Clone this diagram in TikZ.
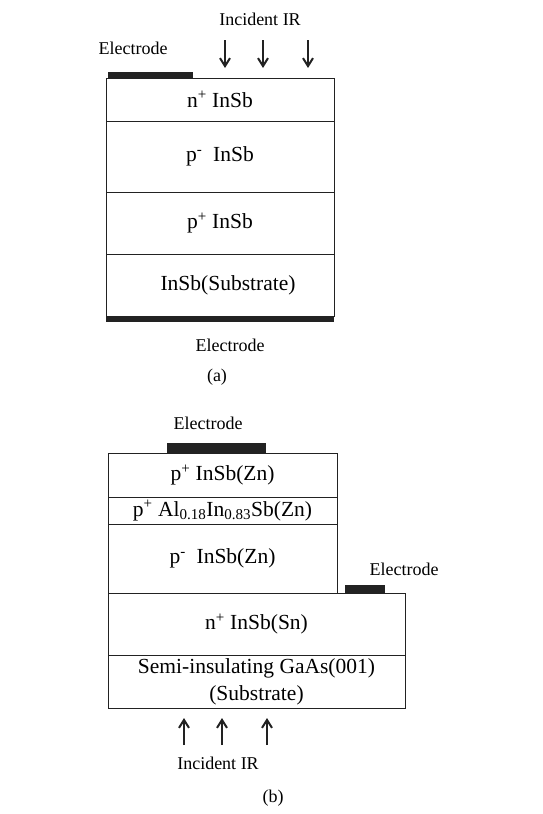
\documentclass[tikz,border=0pt]{standalone}
\usepackage{fontspec}
\setmainfont{Liberation Serif}
\usetikzlibrary{arrows.meta,positioning}
\definecolor{ink}{HTML}{222222}
\tikzset{layer/.style={draw=ink,line width=.9pt,inner sep=0pt,outer sep=0pt,font=\fontsize{21.5}{27}\selectfont,align=center},pad/.style={fill=ink,inner sep=0pt,outer sep=0pt},tag/.style={font=\fontsize{18}{21}\selectfont,inner sep=1pt},ray/.style={ink,line width=2pt,-{Straight Barb[length=8pt,width=10pt,line width=2pt]}}}

\begin{document}
\begin{tikzpicture}[x=1pt,y=-1pt]
\useasboundingbox (0,0) rectangle (542,814);
% (a) InSb on InSb substrate
\node[layer,minimum width=228pt,minimum height=43pt] (nplus) at (220,99.5) {n\textsuperscript{+} InSb};
\node[layer,minimum width=228pt,minimum height=71pt,below=0pt of nplus] (pminus) {p\textsuperscript{-}\ \ InSb};
\node[layer,minimum width=228pt,minimum height=62pt,below=0pt of pminus] (pplus) {p\textsuperscript{+} InSb};
\node[layer,minimum width=228pt,minimum height=62pt,below=0pt of pplus] (subA) {\hspace*{16pt}InSb(Substrate)};
\node[pad,minimum width=228pt,minimum height=6pt,below=0pt of subA] (padAbot) {};
\node[pad,minimum width=85pt,minimum height=6pt,anchor=south west] (padAtop) at ([xshift=2pt]nplus.north west) {};
\node[tag] (elAtop) at (133,48) {Electrode};
\node[tag] (irA) at (260,19) {Incident IR};
\foreach \x [count=\i] in {225,263,308}{\coordinate (ra\i) at (\x,40);\coordinate (rb\i) at (\x,68);\draw[ray] (ra\i)--(rb\i);}
\node[tag] (elAbot) at (230,345) {Electrode};
\node[tag] (capA) at (217,377) {(a)};
% (b) InSb/AlInSb on GaAs substrate
\node[layer,minimum width=229pt,minimum height=44pt] (pplusZn) at (222.5,475) {p\textsuperscript{+} InSb(Zn)};
\node[layer,minimum width=229pt,minimum height=27pt,below=0pt of pplusZn] (alinsb) {p\textsuperscript{+} Al\textsubscript{0.18}In\textsubscript{0.83}Sb(Zn)};
\node[layer,minimum width=229pt,minimum height=69pt,below=0pt of alinsb] (pminusZn) {p\textsuperscript{-}\ \ InSb(Zn)};
\node[layer,minimum width=297pt,minimum height=62pt,anchor=north west] (nplusSn) at (pminusZn.south west) {n\textsuperscript{+} InSb(Sn)};
\node[layer,minimum width=297pt,minimum height=53pt,below=0pt of nplusSn] (gaas) {Semi-insulating GaAs(001)\\(Substrate)};
\node[pad,minimum width=99pt,minimum height=10pt,anchor=south west] (padBtop) at ([xshift=59pt]pplusZn.north west) {};
\node[pad,minimum width=40pt,minimum height=8pt,anchor=south west] (padBside) at ([xshift=8pt]pminusZn.south east) {};
\node[tag] (elBtop) at (208,423) {Electrode};
\node[tag] (elBside) at (404,569) {Electrode};
\foreach \x [count=\i] in {184,222,267}{\coordinate (rc\i) at (\x,745);\coordinate (rd\i) at (\x,718);\draw[ray] (rc\i)--(rd\i);}
\node[tag] (irB) at (218,763) {Incident IR};
\node[tag] (capB) at (273,798) {(b)};
\end{tikzpicture}
\end{document}
